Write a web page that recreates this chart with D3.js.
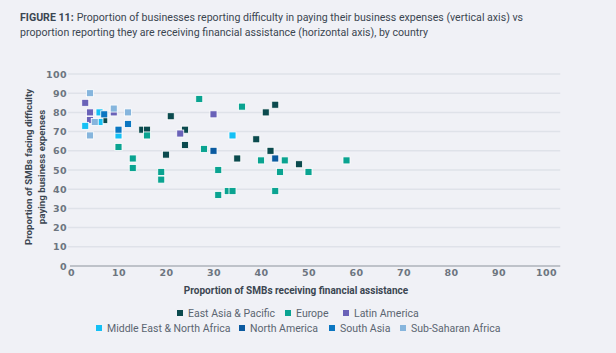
<!DOCTYPE html>
<html>
<head>
<meta charset="utf-8">
<script src="https://cdn.jsdelivr.net/npm/d3@7"></script>
<style>
  body { margin: 0; background: #f0f1f6; }
  svg { display: block; font-family: Roboto, "Noto Sans", sans-serif; }
</style>
</head>
<body>
<div class="chart"></div>
<script>
"use strict";

// Data (x = % receiving financial assistance, y = % facing difficulty paying expenses)
var regions = ["East Asia & Pacific", "Europe", "Latin America",
               "Middle East & North Africa", "North America", "South Asia", "Sub-Saharan Africa"];
var regionColors = ["#0b4a4e", "#0aa391", "#6a62b8", "#14c0f5", "#0b5aa0", "#0b76c1", "#86b5dd"];

var eastAsia    = [[7, 76], [15, 71], [16, 71], [20, 58], [21, 78], [24, 71], [24, 63],
                   [35, 56], [39, 66], [41, 80], [42, 60], [43, 84], [48, 53]];
var europe      = [[9, 81], [10, 62], [13, 56], [13, 51], [16, 68], [19, 49], [19, 45],
                   [27, 87], [28, 61], [31, 50], [31, 37], [33, 39], [34, 39], [36, 83],
                   [40, 55], [43, 39], [44, 49], [45, 55], [50, 49], [58, 55]];
var latinAm     = [[3, 85], [4, 80], [4, 76], [9, 80], [23, 69], [30, 79]];
var middleEast  = [[3, 73], [6, 80], [6, 75], [10, 68], [34, 68]];
var northAm     = [[30, 60], [43, 56]];
var southAsia   = [[7, 79], [10, 71], [12, 74]];
var subSaharan  = [[4, 90], [4, 68], [5, 75], [9, 82], [12, 80]];

var seriesData = [eastAsia, europe, latinAm, middleEast, northAm, southAsia, subSaharan];

var xTicks = [0, 10, 20, 30, 40, 50, 60, 70, 80, 90, 100];
var yTicks = [0, 10, 20, 30, 40, 50, 60, 70, 80, 90, 100];

var width = 616, height = 353;

var svg = d3.select(".chart").append("svg")
    .attr("width", width)
    .attr("height", height);

svg.append("rect").attr("width", width).attr("height", height).attr("fill", "#f0f1f6");

// Title
var title = svg.append("text")
    .attr("x", 20).attr("y", 21)
    .attr("font-size", 10.6)
    .attr("fill", "#3b4651");
title.append("tspan").attr("font-weight", 700).text("FIGURE 11:");
title.append("tspan").attr("dx", 3).text("Proportion of businesses reporting difficulty in paying their business expenses (vertical axis) vs");
svg.append("text")
    .attr("x", 20).attr("y", 36)
    .attr("font-size", 10.6)
    .attr("fill", "#3b4651")
    .text("proportion reporting they are receiving financial assistance (horizontal axis), by country");

// Scales
var x = d3.scaleLinear().domain([0, 100]).range([71, 546]);
var y = d3.scaleLinear().domain([0, 100]).range([266, 74]);

// Gridlines
svg.append("g")
    .selectAll("line")
    .data(yTicks.filter(function(d) { return d > 0; }))
    .enter().append("line")
    .attr("x1", x(0) - 3).attr("x2", x(103))
    .attr("y1", function(d) { return y(d); })
    .attr("y2", function(d) { return y(d); })
    .attr("stroke", "#dfe2e9")
    .attr("stroke-width", 1.5);

// Y axis
var yAxis = svg.append("g")
    .attr("transform", "translate(" + (x(0) - 3) + ",0)")
    .call(d3.axisLeft(y).tickValues(yTicks).tickSize(0).tickPadding(1));
yAxis.select(".domain").remove();

// X axis
var xAxis = svg.append("g")
    .attr("transform", "translate(0," + y(0) + ")")
    .call(d3.axisBottom(x).tickValues(xTicks).tickSize(0).tickPadding(3));
xAxis.select(".domain").remove();
svg.append("line")
    .attr("x1", x(0) - 1).attr("x2", x(103))
    .attr("y1", y(0)).attr("y2", y(0))
    .attr("stroke", "#8c939c")
    .attr("stroke-width", 1.2);

svg.selectAll(".tick text")
    .attr("font-family", "'DejaVu Sans', sans-serif")
    .attr("font-size", 9.5)
    .attr("font-weight", 700)
    .attr("letter-spacing", 0.4)
    .attr("fill", "#6d7580");

// Axis titles
svg.append("text")
    .attr("x", 296).attr("y", 294)
    .attr("text-anchor", "middle")
    .attr("font-size", 10)
    .attr("font-weight", 700)
    .attr("fill", "#3b4651")
    .text("Proportion of SMBs receiving financial assistance");

var yTitle = svg.append("text")
    .attr("transform", "translate(32,167) rotate(-90)")
    .attr("text-anchor", "middle")
    .attr("font-size", 9.7)
    .attr("font-weight", 700)
    .attr("fill", "#3b4651");
yTitle.append("tspan").attr("x", 0).attr("dy", 0).text("Proportion of SMBs facing difficulty");
yTitle.append("tspan").attr("x", 0).attr("dy", 13).text("paying business expenses");

// Points
var m = 7;
seriesData.forEach(function(series, i) {
    svg.append("g")
        .selectAll("rect")
        .data(series)
        .enter().append("rect")
        .attr("x", function(d) { return x(d[0]) - m / 2; })
        .attr("y", function(d) { return y(d[1]) - m / 2; })
        .attr("width", m).attr("height", m)
        .attr("fill", regionColors[i])
        .attr("stroke", "#ffffff")
        .attr("stroke-width", 0.8);
});

// Legend
var legendRows = [
    { y: 313, items: [[0, 180], [1, 288], [2, 346]] },
    { y: 328, items: [[3, 99], [4, 242], [5, 332], [6, 403]] }
];
legendRows.forEach(function(row) {
    row.items.forEach(function(it) {
        var g = svg.append("g").attr("transform", "translate(" + it[1] + "," + row.y + ")");
        g.append("rect")
            .attr("x", -3).attr("y", -3)
            .attr("width", 6).attr("height", 6)
            .attr("fill", regionColors[it[0]]);
        g.append("text")
            .attr("x", 8).attr("y", 3.5)
            .attr("font-size", 10.5)
            .attr("fill", "#5b6571")
            .text(regions[it[0]]);
    });
});
</script>
</body>
</html>
